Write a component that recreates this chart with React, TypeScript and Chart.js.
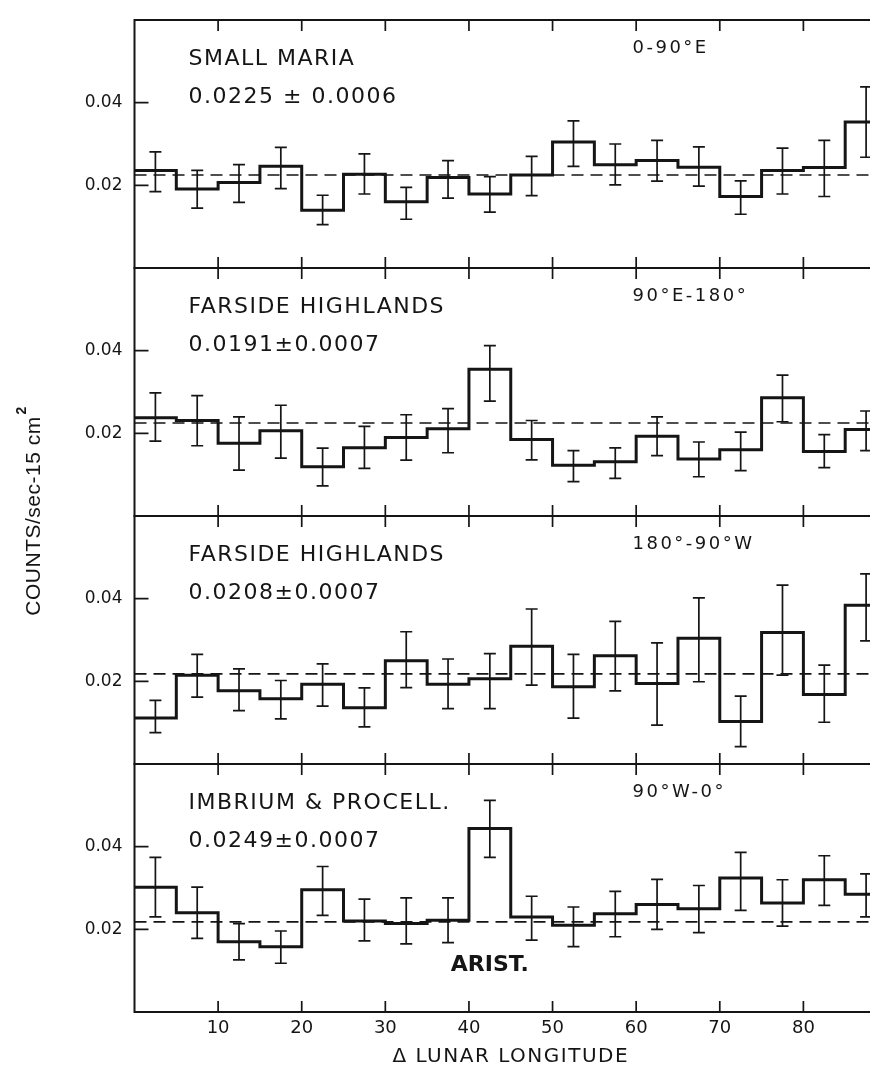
import React, { useEffect, useRef } from 'react';
import { Chart, registerables } from 'chart.js';

Chart.register(...registerables);

// ---------- data ----------
const binStarts = [0, 5, 10, 15, 20, 25, 30, 35, 40, 45, 50, 55, 60, 65, 70, 75, 80, 85];
const binWidth = 5;
const xTickValues = [10, 20, 30, 40, 50, 60, 70, 80];
const yTickValues = [0.02, 0.04];

const panelNames = ['SMALL MARIA', 'FARSIDE HIGHLANDS', 'FARSIDE HIGHLANDS', 'IMBRIUM & PROCELL.'];
const panelMeans = ['0.0225 ± 0.0006', '0.0191±0.0007', '0.0208±0.0007', '0.0249±0.0007'];
const panelRanges = ['0-90°E', '90°E-180°', '180°-90°W', '90°W-0°'];
const referenceLevels = [0.0225, 0.0225, 0.0218, 0.0218];

const smallMariaCounts = [0.0236, 0.0191, 0.0207, 0.0246, 0.0140, 0.0227, 0.0160, 0.0219, 0.0179, 0.0225, 0.0305, 0.0250, 0.0260, 0.0244, 0.0173, 0.0236, 0.0243, 0.0353];
const smallMariaUpper = [0.0281, 0.0236, 0.0250, 0.0292, 0.0176, 0.0276, 0.0195, 0.0260, 0.0221, 0.0270, 0.0356, 0.0300, 0.0309, 0.0293, 0.0211, 0.0290, 0.0309, 0.0438];
const smallMariaLower = [0.0185, 0.0145, 0.0159, 0.0192, 0.0105, 0.0179, 0.0118, 0.0169, 0.0135, 0.0175, 0.0246, 0.0201, 0.0210, 0.0198, 0.0130, 0.0179, 0.0173, 0.0268];

const farsideEastCounts = [0.0238, 0.0231, 0.0176, 0.0206, 0.0119, 0.0165, 0.0190, 0.0211, 0.0355, 0.0185, 0.0123, 0.0131, 0.0193, 0.0138, 0.0160, 0.0286, 0.0156, 0.0209];
const farsideEastUpper = [0.0298, 0.0291, 0.0240, 0.0268, 0.0164, 0.0217, 0.0245, 0.0260, 0.0412, 0.0231, 0.0158, 0.0165, 0.0240, 0.0179, 0.0203, 0.0341, 0.0197, 0.0254];
const farsideEastLower = [0.0181, 0.0170, 0.0111, 0.0140, 0.0073, 0.0115, 0.0135, 0.0153, 0.0278, 0.0136, 0.0083, 0.0091, 0.0146, 0.0095, 0.0110, 0.0228, 0.0117, 0.0158];

const farsideWestCounts = [0.0111, 0.0215, 0.0177, 0.0158, 0.0193, 0.0136, 0.0250, 0.0193, 0.0206, 0.0285, 0.0187, 0.0262, 0.0195, 0.0304, 0.0103, 0.0318, 0.0168, 0.0384];
const farsideWestUpper = [0.0154, 0.0265, 0.0230, 0.0202, 0.0242, 0.0184, 0.0320, 0.0254, 0.0267, 0.0375, 0.0265, 0.0345, 0.0293, 0.0402, 0.0164, 0.0433, 0.0239, 0.0460];
const farsideWestLower = [0.0076, 0.0162, 0.0129, 0.0109, 0.0140, 0.0090, 0.0185, 0.0134, 0.0134, 0.0191, 0.0111, 0.0177, 0.0094, 0.0199, 0.0042, 0.0215, 0.0101, 0.0298];

const imbriumCounts = [0.0302, 0.0240, 0.0170, 0.0158, 0.0296, 0.0220, 0.0214, 0.0222, 0.0444, 0.0230, 0.0210, 0.0238, 0.0260, 0.0250, 0.0324, 0.0264, 0.0320, 0.0285];
const imbriumUpper = [0.0374, 0.0302, 0.0214, 0.0196, 0.0352, 0.0273, 0.0276, 0.0276, 0.0512, 0.0280, 0.0254, 0.0292, 0.0321, 0.0306, 0.0386, 0.0320, 0.0378, 0.0334];
const imbriumLower = [0.0230, 0.0178, 0.0126, 0.0118, 0.0234, 0.0172, 0.0165, 0.0168, 0.0374, 0.0174, 0.0158, 0.0182, 0.0200, 0.0192, 0.0246, 0.0208, 0.0258, 0.0230];

const aristarchusBin = 42.5;
const aristarchusLabel = 'ARIST.';
const xTitle = 'Δ LUNAR LONGITUDE';
const yTitle = 'COUNTS/sec-15 cm';
const yTitleSup = '2';

const panelCounts = [smallMariaCounts, farsideEastCounts, farsideWestCounts, imbriumCounts];
const panelUpper = [smallMariaUpper, farsideEastUpper, farsideWestUpper, imbriumUpper];
const panelLower = [smallMariaLower, farsideEastLower, farsideWestLower, imbriumLower];

// ---------- styling ----------
const INK = '#151515';
const FONT = '"DejaVu Sans", sans-serif';

const overlayPlugin = {
  id: 'overlay',
  afterDatasetsDraw(chart: any) {
    const ctx = chart.ctx as CanvasRenderingContext2D;
    const xs = chart.scales.x;
    const { left, right, top: areaTop, bottom: areaBottom } = chart.chartArea;
    ctx.save();
    ctx.strokeStyle = INK;
    ctx.fillStyle = INK;
    ctx.lineCap = 'butt';

    panelCounts.forEach((counts, i) => {
      const ys = chart.scales['y' + i];
      const top = ys.top;
      const bottom = ys.bottom;

      // error bars
      ctx.lineWidth = 1.7;
      counts.forEach((_v, j) => {
        const cx = xs.getPixelForValue(binStarts[j] + binWidth / 2);
        const yHi = ys.getPixelForValue(panelUpper[i][j]);
        const yLo = ys.getPixelForValue(panelLower[i][j]);
        ctx.beginPath();
        ctx.moveTo(cx, yHi);
        ctx.lineTo(cx, yLo);
        ctx.moveTo(cx - 6, yHi);
        ctx.lineTo(cx + 6, yHi);
        ctx.moveTo(cx - 6, yLo);
        ctx.lineTo(cx + 6, yLo);
        ctx.stroke();
      });

      // frame
      ctx.lineWidth = 2;
      ctx.strokeRect(left, top, right - left, bottom - top);

      // inward x ticks
      ctx.lineWidth = 1.7;
      xTickValues.forEach((v) => {
        const px = xs.getPixelForValue(v);
        ctx.beginPath();
        ctx.moveTo(px, top);
        ctx.lineTo(px, top + 11);
        ctx.moveTo(px, bottom);
        ctx.lineTo(px, bottom - 11);
        ctx.stroke();
      });
      // inward y ticks
      yTickValues.forEach((v) => {
        const py = ys.getPixelForValue(v);
        ctx.beginPath();
        ctx.moveTo(left, py);
        ctx.lineTo(left + 14, py);
        ctx.moveTo(right, py);
        ctx.lineTo(right - 14, py);
        ctx.stroke();
      });

      // texts
      ctx.textAlign = 'left';
      ctx.textBaseline = 'alphabetic';
      (ctx as any).letterSpacing = '1.5px';
      ctx.font = `22px ${FONT}`;
      ctx.fillText(panelNames[i], left + 54, top + 45);
      ctx.fillText(panelMeans[i], left + 54, top + 83);
      (ctx as any).letterSpacing = '2.5px';
      ctx.font = `18px ${FONT}`;
      ctx.fillText(panelRanges[i], left + 498, top + 33);
    });

    // ARIST. label
    const ys4 = chart.scales.y3;
    (ctx as any).letterSpacing = '0px';
    ctx.font = `bold 22px ${FONT}`;
    ctx.textAlign = 'center';
    ctx.textBaseline = 'middle';
    ctx.fillText(aristarchusLabel, xs.getPixelForValue(aristarchusBin), ys4.bottom - 47);

    // x title
    (ctx as any).letterSpacing = '1.5px';
    ctx.font = `20px ${FONT}`;
    ctx.textAlign = 'center';
    ctx.textBaseline = 'middle';
    ctx.fillText(xTitle, (left + right) / 2, areaBottom + 45);

    // y title
    (ctx as any).letterSpacing = '0.5px';
    ctx.translate(26, (areaTop + areaBottom) / 2);
    ctx.rotate(-Math.PI / 2);
    ctx.font = `21px "Liberation Sans", sans-serif`;
    ctx.textAlign = 'center';
    ctx.textBaseline = 'middle';
    ctx.fillText(yTitle, 0, 0);
    const w = ctx.measureText(yTitle).width;
    ctx.font = `bold 14px "Liberation Sans", sans-serif`;
    ctx.fillText(yTitleSup, w / 2 + 6, -12);

    ctx.restore();
  },
};

export default function App() {
  const canvasRef = useRef<HTMLCanvasElement | null>(null);

  useEffect(() => {
    const canvas = canvasRef.current;
    if (!canvas) return;

    const datasets: any[] = [];
    panelCounts.forEach((counts, i) => {
      const steps: { x: number; y: number }[] = [];
      counts.forEach((v, j) => {
        steps.push({ x: binStarts[j], y: v });
        steps.push({ x: binStarts[j] + binWidth, y: v });
      });
      datasets.push({
        type: 'line',
        label: panelNames[i],
        data: steps,
        yAxisID: 'y' + i,
        borderColor: INK,
        borderWidth: 3,
        pointRadius: 0,
        fill: false,
        tension: 0,
        borderJoinStyle: 'miter',
      });
      datasets.push({
        type: 'line',
        label: panelNames[i] + ' reference',
        data: [
          { x: 0, y: referenceLevels[i] },
          { x: 90, y: referenceLevels[i] },
        ],
        yAxisID: 'y' + i,
        borderColor: INK,
        borderWidth: 1.6,
        borderDash: [12, 7],
        pointRadius: 0,
        fill: false,
      });
    });

    const scales: any = {
      x: {
        type: 'linear',
        position: 'bottom',
        min: 0,
        max: 90,
        grid: { display: false, drawTicks: false },
        border: { display: false },
        ticks: {
          color: INK,
          font: { family: FONT, size: 18 },
          padding: 6,
          maxRotation: 0,
          autoSkip: false,
        },
        afterBuildTicks: (s: any) => {
          s.ticks = xTickValues.map((v) => ({ value: v }));
        },
        afterFit: (s: any) => {
          s.height = 54;
          s.paddingLeft = 0;
          s.paddingRight = 0;
        },
      },
    };
    // stacked vertical axes are laid out last-defined on top, so insert bottom panel first
    for (let i = 3; i >= 0; i--) {
      scales['y' + i] = {
        type: 'linear',
        position: 'left',
        stack: 'panels',
        stackWeight: 1,
        offset: false,
        min: 0,
        max: 0.06,
        grid: { display: false, drawTicks: false },
        border: { display: false },
        ticks: {
          color: INK,
          font: { family: FONT, size: 17 },
          padding: 12,
          callback: (v: number) => v.toFixed(2),
        },
        afterBuildTicks: (s: any) => {
          s.ticks = yTickValues.map((v) => ({ value: v }));
        },
        afterFit: (s: any) => {
          s.width = 126.5;
          s.paddingTop = 0;
          s.paddingBottom = 0;
        },
      };
    }

    const chart = new Chart(canvas, {
      type: 'line',
      data: { datasets },
      options: {
        animation: false,
        responsive: false,
        maintainAspectRatio: false,
        devicePixelRatio: 1,
        layout: { padding: { top: 12, right: 3, left: 0, bottom: 0 } },
        plugins: {
          legend: { display: false },
          tooltip: { enabled: false },
        },
        scales,
      },
      plugins: [overlayPlugin],
    } as any);

    return () => chart.destroy();
  }, []);

  return (
    <div style={{ width: 870, height: 1058, overflow: 'hidden', background: '#fff' }}>
      <canvas ref={canvasRef} width={882} height={1058} style={{ display: 'block' }} />
    </div>
  );
}
